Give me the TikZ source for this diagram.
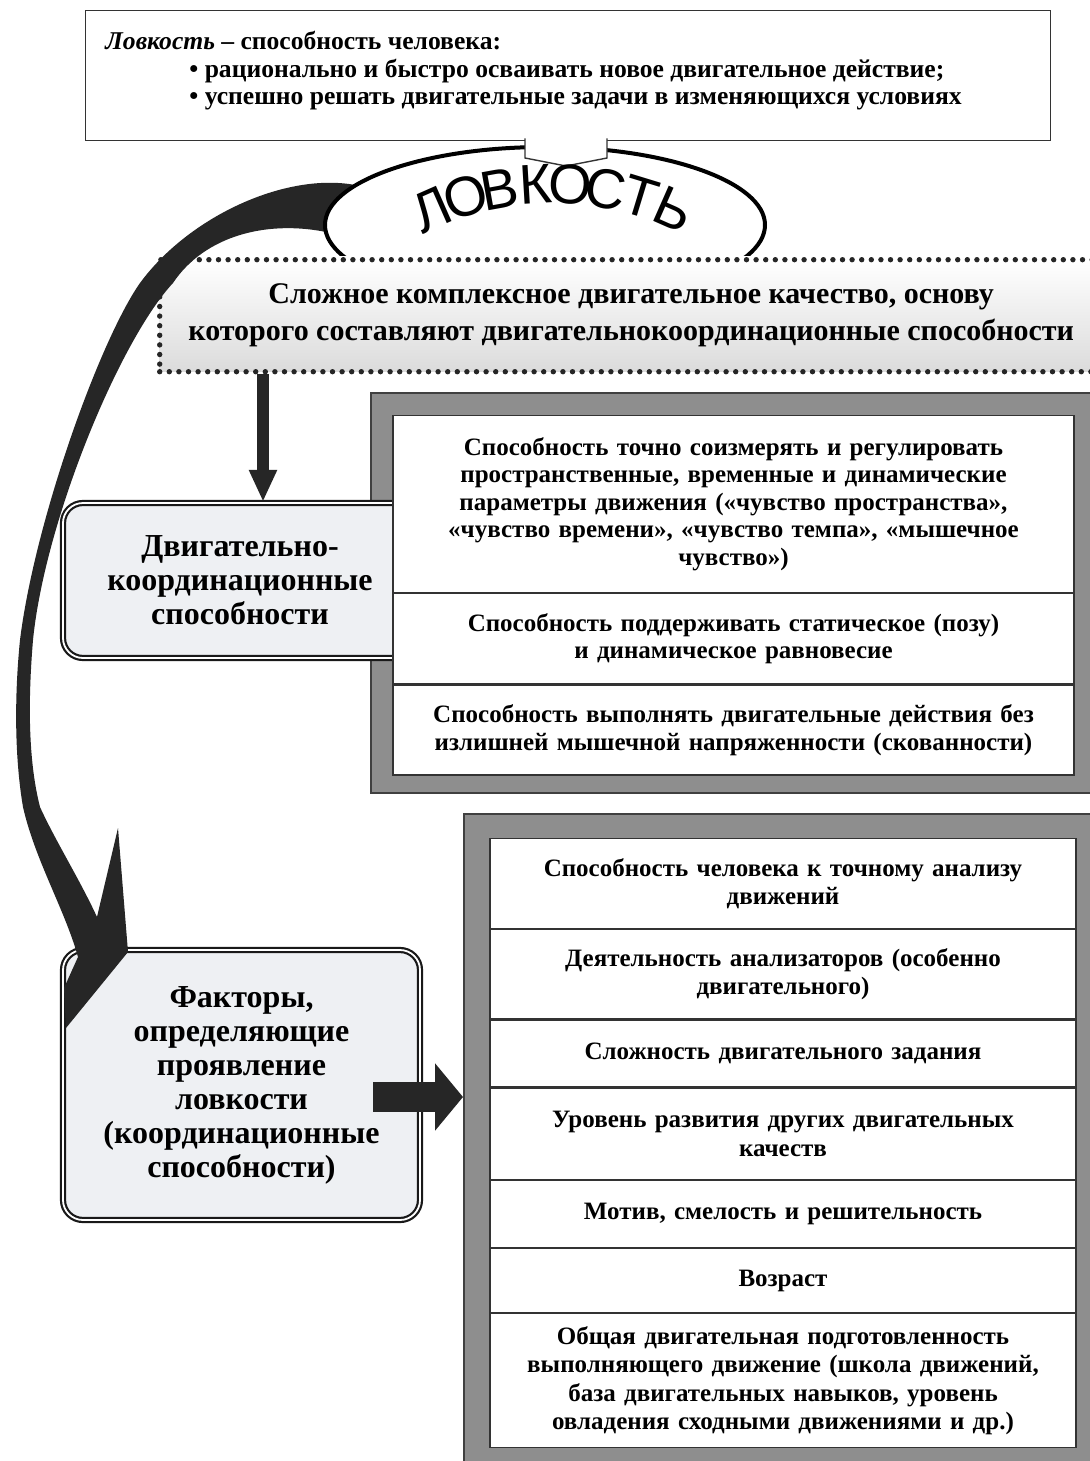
\documentclass[tikz,border=0pt]{standalone}
\usepackage{fontspec}
\setmainfont{Liberation Serif}
\newfontfamily\archfont{Liberation Sans}
\usetikzlibrary{arrows.meta,positioning,shapes.geometric}
\definecolor{framegray}{HTML}{8E8E8E}
\definecolor{boxfill}{HTML}{EEF0F3}
\definecolor{inkdark}{HTML}{262626}

\begin{document}
\begin{tikzpicture}[x=0.5pt, y=-0.5pt,
            every node/.style={inner sep=0pt, align=center},
            grayframe/.style={draw=black!75, line width=0.8pt, fill=framegray, anchor=north west},
            rowbox/.style={draw=black!80, line width=0.6pt, fill=white, anchor=north},
            rowa/.style={rowbox, minimum width=340.5pt, text width=330pt, font=\bfseries\fontsize{12.5}{13.75}\selectfont},
            rowb/.style={rowbox, minimum width=293pt, text width=285pt, font=\bfseries\fontsize{12.5}{14.25}\selectfont},
            sidebox/.style={draw=black!90, line width=1.1pt, double=white, double distance=0.9pt, fill=boxfill, rounded corners=10pt, font=\bfseries\fontsize{16}{17}\selectfont},
            fatarrow/.style={draw=inkdark, line width=6pt, -{Triangle[length=16pt,width=13pt]}},
            blockarrow/.style={draw=inkdark, line width=15pt, -{Triangle[length=14pt,width=33pt]}}]
        \useasboundingbox[fill=white] (0,0) rectangle (1089,1461);

        % upper frame with the three abilities
        \node[grayframe, minimum width=365pt, minimum height=200pt] (outer1) at (370,392) {};
        \node[sidebox, minimum width=177pt, minimum height=77.5pt] (skills) at (240,580.5) {Двигательно-\\координационные\\способности};
        \node[rowa, minimum height=88.5pt] (p1) at (733.5,415) {Способность точно соизмерять и регулировать\\пространственные, временные и динамические\\параметры движения («чувство пространства»,\\«чувство времени», «чувство темпа», «мышечное\\чувство»)};
        \node[rowa, minimum height=45pt, below=0pt of p1] (p2) {Способность поддерживать статическое (позу)\\и динамическое равновесие};
        \node[rowa, minimum height=45pt, below=0pt of p2] (p3) {Способность выполнять двигательные действия без\\излишней мышечной напряженности (скованности)};

        % lower frame with the factors
        \node[grayframe, minimum width=318.5pt, minimum height=330pt] (outer2) at (463,813) {};
        \node[rowb, minimum height=45pt] (q1) at (783,838) {Способность человека к точному анализу\\движений};
        \node[rowb, minimum height=44.5pt, below=0pt of q1] (q2) {Деятельность анализаторов (особенно\\двигательного)};
        \node[rowb, minimum height=33.5pt, below=0pt of q2] (q3) {Сложность двигательного задания};
        \node[rowb, minimum height=45.5pt, below=0pt of q3] (q4) {Уровень развития других двигательных\\качеств};
        \node[rowb, minimum height=33.5pt, below=0pt of q4] (q5) {Мотив, смелость и решительность};
        \node[rowb, minimum height=32pt, below=0pt of q5] (q6) {Возраст};
        \node[rowb, minimum height=67pt, below=0pt of q6] (q7) {Общая двигательная подготовленность\\выполняющего движение (школа движений,\\база двигательных навыков, уровень\\овладения сходными движениями и др.)};
        \node[sidebox, minimum width=178.5pt, minimum height=135pt] (factors) at (241.5,1085) {Факторы,\\определяющие\\проявление\\ловкости\\(координационные\\способности)};

        % dotted band
        \node[draw=black!85, line width=2.7pt, line cap=round, dash pattern=on 0pt off 4.8pt,
              top color=white, bottom color=gray!28, minimum width=471.5pt, minimum height=56pt,
              anchor=north west, font=\bfseries\fontsize{15}{18.5}\selectfont] (quality) at (157,257)
              {Сложное комплексное двигательное качество, основу\\которого составляют двигательнокоординационные способности};

        % arrows
        \coordinate (vtop) at ([xshift=11.5pt]skills.north);
        \draw[fatarrow] (vtop |- quality.south) -- (vtop);
        \coordinate (harrow) at ([shift={(-48,12)}]factors.east);
        \draw[blockarrow] (harrow) -- (harrow -| outer2.west);
        \fill[inkdark] (360,186) .. controls (290,170) and (190,215) .. (140,283)
              .. controls (100,340) and (35,520) .. (20,640)
              .. controls (14,700) and (15,760) .. (23,807)
              .. controls (35,860) and (65,910) .. (78,957)
              -- (64,988) -- (66,1028) -- (128,952) -- (118,828) -- (97,917)
              .. controls (80,880) and (55,840) .. (40,807)
              .. controls (28,760) and (28,700) .. (33,640)
              .. controls (45,520) and (120,340) .. (173,283)
              .. controls (205,235) and (270,218) .. (335,234) -- cycle;

        % title ellipse
        \begin{scope}
            \clip (0,0) rectangle (1089,255);
            \node[ellipse, draw=black, line width=2pt, fill=white, minimum width=220pt, minimum height=78pt] (title) at (545,225) {};
        \end{scope}

        % definition box
        \node[draw=black!80, line width=0.7pt, fill=white, anchor=north west, minimum width=482.5pt, minimum height=65pt] (def) at (85,10) {};
        \filldraw[fill=white, draw=black!80, line width=0.7pt] (525,138.5) -- (525,158) -- (566,166) -- (607,158) -- (607,138.5);
        \node[anchor=north west, align=left, font=\bfseries\fontsize{12.8}{13.75}\selectfont] (deftext) at (105,31)
              {{\itshape Ловкость} – способность человека:\\
               \hspace*{42pt}• рационально и быстро осваивать новое двигательное действие;\\
               \hspace*{42pt}• успешно решать двигательные задачи в изменяющихся условиях};

        \foreach \ch [count=\i] in {Л,О,В,К,О,С,Т,Ь}
            \node[font=\archfont\fontsize{28}{28}\selectfont, rotate={(4.5-\i)*6.8}] (t\i)
                at ({553-300*sin((4.5-\i)*6.8)}, {484-300*cos((4.5-\i)*6.8)}) {\ch};
\end{tikzpicture}
\end{document}
